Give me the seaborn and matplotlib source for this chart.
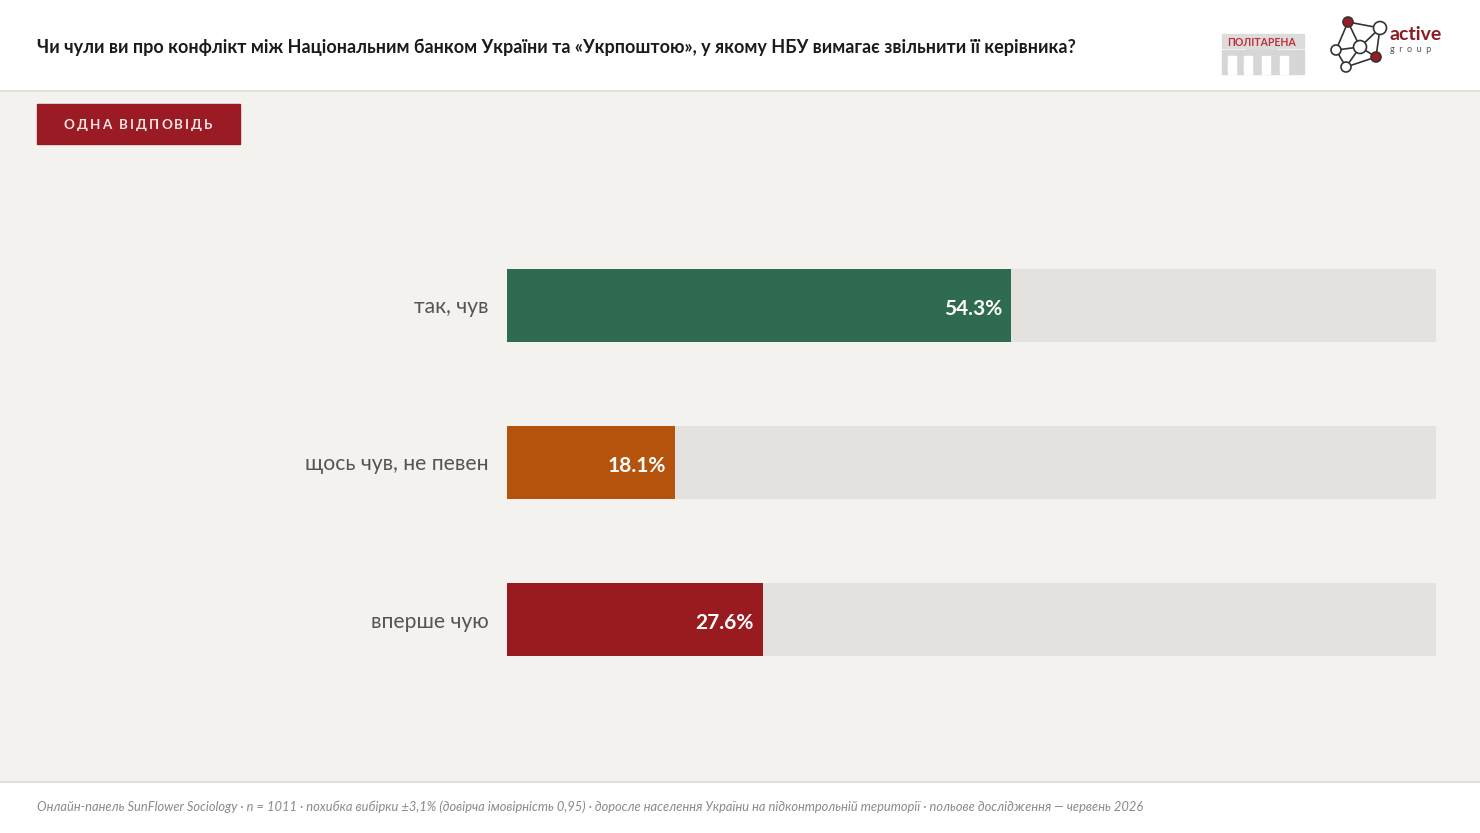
import matplotlib.pyplot as plt
import matplotlib.patches as mpatches
import pandas as pd
import seaborn as sns

categories = ["так, чув", "щось чув, не певен", "вперше чую"]
values = [54.3, 18.1, 27.6]
bar_colors = ["#2e6b50", "#b5530c", "#9a1b1f"]
track_max = [100, 100, 100]

title = ("Чи чули ви про конфлікт між Національним банком України та «Укрпоштою», "
         "у якому НБУ вимагає звільнити її керівника?")
badge = "ОДНА ВІДПОВІДЬ"
footer = ("Онлайн-панель SunFlower Sociology · n = 1011 · похибка вибірки ±3,1% "
          "(довірча імовірність 0,95) · доросле населення України на підконтрольній "
          "території · польове дослідження — червень 2026")

sns.set_theme(style="white")
plt.rcParams["font.family"] = ["Lato", "DejaVu Sans"]

W, H = 1480, 833
fig = plt.figure(figsize=(W / 100, H / 100), dpi=100)
fig.patch.set_facecolor("#f4f2ef")

# header / footer bands
bg = fig.add_axes([0, 0, 1, 1])
bg.set_xlim(0, W)
bg.set_ylim(H, 0)
bg.axis("off")
bg.add_patch(mpatches.Rectangle((0, 0), W, 90, color="white", zorder=0))
bg.add_patch(mpatches.Rectangle((0, 782), W, 51, color="white", zorder=0))
bg.plot([0, W], [90.5, 90.5], color="#e2e0dc", lw=1.5)
bg.plot([0, W], [782, 782], color="#e2e0dc", lw=1.5)

bg.text(37, 47, title, fontsize=13.0, fontweight="bold", color="#1b1b1b", va="center", ha="left")
bg.text(37, 807, footer, fontsize=9.3, style="italic", color="#8a8a8a", va="center", ha="left")

# badge with letter spacing
bg.add_patch(mpatches.Rectangle((37, 104), 203, 40, color="#9a1b24"))
renderer = fig.canvas.get_renderer()
x = 64.0
for ch in badge:
    t = bg.text(x, 125, ch, fontsize=9.6, fontweight="bold", color="#f5e6e6", ha="left", va="center")
    w = t.get_window_extent(renderer).width if ch != " " else 4
    x += w + 2.0

# logos (simple approximations)
bg.add_patch(mpatches.Wedge((1262, 36), 20, 0, 180, color="#dcdcdc"))
bg.add_patch(mpatches.Rectangle((1222, 34), 82, 14, color="#dcdcdc"))
bg.add_patch(mpatches.Rectangle((1222, 50), 82, 24, color="#d6d6d6"))
for cx in (1228, 1244, 1262, 1280):
    bg.add_patch(mpatches.Rectangle((cx, 56), 8, 18, color="white"))
bg.text(1262, 42, "ПОЛІТАРЕНА", fontsize=7.6, fontweight="bold", color="#c0303a", ha="center", va="center")
nodes = [(1348, 22), (1380, 28), (1360, 47), (1336, 50), (1376, 57), (1346, 67)]
edges = [(0, 1), (0, 3), (0, 2), (1, 2), (1, 4), (2, 3), (2, 5), (3, 5), (4, 5), (2, 4)]
for a, b in edges:
    bg.plot([nodes[a][0], nodes[b][0]], [nodes[a][1], nodes[b][1]], color="#333333", lw=1.2)
for i, (nx, ny) in enumerate(nodes):
    fc = "#9a1b24" if i in (0, 4) else "white"
    bg.add_patch(mpatches.Circle((nx, ny), 5 if i not in (1, 2) else 6.5, fc=fc, ec="#333333", lw=1.2, zorder=3))
bg.text(1389, 34, "active", fontsize=14, fontweight="bold", color="#8a1c26", ha="left", va="center")
bg.text(1390, 49, "g  r  o  u  p", fontsize=6.5, color="#555555", ha="left", va="center")

# bars
df = pd.DataFrame({"category": categories, "value": values, "track": track_max})
ax = fig.add_axes([507 / W, 1 - 698 / H, 929 / W, 471 / H])
ax.set_facecolor("none")
sns.barplot(data=df, y="category", x="track", color="#e4e2df", width=0.465, ax=ax,
            orient="h", saturation=1, linewidth=0)
sns.barplot(data=df, y="category", x="value", hue="category", palette=bar_colors,
            width=0.465, ax=ax, orient="h", legend=False, dodge=False, saturation=1, linewidth=0)
ax.set_xlim(0, 100)
ax.set_ylim(2.5, -0.5)
for i, v in enumerate(values):
    ax.text(v - 1.0, i + 0.02, f"{v:.1f}%", color="white", fontsize=15, fontweight="bold",
            ha="right", va="center")
ax.set_xlabel("")
ax.set_ylabel("")
ax.set_xticks([])
ax.tick_params(axis="y", length=0, pad=13, labelsize=15.2, labelcolor="#555555")
sns.despine(ax=ax, left=True, bottom=True)

fig.savefig("out.png", dpi=100, facecolor=fig.get_facecolor())
